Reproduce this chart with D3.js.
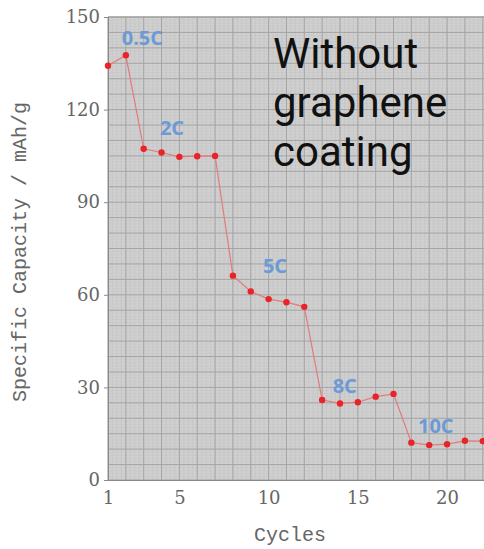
<!DOCTYPE html>
<html>
<head>
<meta charset="utf-8">
<script src="https://cdnjs.cloudflare.com/ajax/libs/d3/7.8.5/d3.min.js"></script>
<style>
  html, body { margin: 0; padding: 0; background: #fff; }
  svg { display: block; }
</style>
</head>
<body>
<svg id="chart" width="484" height="549"></svg>
<script>
// data
const cycles = d3.range(1, 23);
const capacity = [134.2, 137.6, 107.3, 106.1, 104.7, 104.9, 105.0, 66.2, 61.1, 58.6, 57.6,
  56.1, 25.9, 24.8, 25.2, 27.0, 27.9, 12.1, 11.3, 11.6, 12.7, 12.6];
const yTicks = [0, 30, 60, 90, 120, 150];
const xTicks = [1, 5, 10, 15, 20];
const rateLabels = ["0.5C", "2C", "5C", "8C", "10C"];
const rateCycle = [1.77, 3.91, 9.68, 13.59, 18.37];
const rateValue = [142.5, 113.4, 68.7, 29.8, 16.8];
const noteLines = ["Without", "graphene", "coating"];

var svg = d3.select("#chart");
const plotLeft = 108, plotRight = 484, plotTop = 17, plotBottom = 480;

var x = d3.scaleLinear().domain([1, 22.07]).range([plotLeft, plotRight]);
var y = d3.scaleLinear().domain([0, 150]).range([plotBottom, plotTop]);

// plot background
svg.append("rect")
  .attr("x", plotLeft).attr("y", plotTop)
  .attr("width", plotRight - plotLeft).attr("height", plotBottom - plotTop)
  .style("fill", "#d0d0d0");

const grid = svg.append("g");
// minor grid
grid.selectAll(".vminor")
  .data(d3.range(1, 22.1, 0.25))
  .enter().append("line")
  .attr("x1", (d) => x(d)).attr("x2", (d) => x(d))
  .attr("y1", plotTop).attr("y2", plotBottom)
  .style("stroke", "#c2c2c2").style("stroke-width", 0.6);
grid.selectAll(".hminor")
  .data(d3.range(0, 151, 1))
  .enter().append("line")
  .attr("x1", plotLeft).attr("x2", plotRight)
  .attr("y1", (d) => y(d)).attr("y2", (d) => y(d))
  .style("stroke", "#c4c4c4").style("stroke-width", 0.5);
// major grid
grid.selectAll(".vmajor")
  .data(cycles)
  .enter().append("line")
  .attr("x1", (d) => x(d)).attr("x2", (d) => x(d))
  .attr("y1", plotTop).attr("y2", plotBottom)
  .style("stroke", "#a5a5a5").style("stroke-width", 1);
grid.selectAll(".hmajor")
  .data(d3.range(0, 151, 5))
  .enter().append("line")
  .attr("x1", plotLeft).attr("x2", plotRight)
  .attr("y1", (d) => y(d)).attr("y2", (d) => y(d))
  .style("stroke", "#a5a5a5").style("stroke-width", 1);

// axes
const yAxis = svg.append("g")
  .attr("transform", `translate(${plotLeft},0)`)
  .call(d3.axisLeft(y).tickValues(yTicks).tickSize(4).tickPadding(4));
const xAxis = svg.append("g")
  .attr("transform", `translate(0,${plotBottom})`)
  .call(d3.axisBottom(x).tickValues(xTicks).tickSize(0).tickPadding(11));
[yAxis, xAxis].forEach((a) => {
  a.select(".domain").style("stroke", "#8a8a8a");
  a.selectAll(".tick line").style("stroke", "#8a8a8a");
  a.selectAll("text")
    .style("font-family", "'DejaVu Serif', serif")
    .style("font-size", "18px")
    .style("fill", "#666");
});
svg.append("line")
  .attr("x1", plotLeft).attr("x2", plotRight).attr("y1", plotTop).attr("y2", plotTop)
  .style("stroke", "#9a9a9a");

// axis titles
svg.append("text")
  .attr("x", 290).attr("y", 541)
  .attr("text-anchor", "middle")
  .style("font-family", "'Liberation Mono', monospace")
  .style("font-size", "20px")
  .style("fill", "#666")
  .text("Cycles");
svg.append("text")
  .attr("transform", "translate(26,252) rotate(-90)")
  .attr("text-anchor", "middle")
  .style("font-family", "'Liberation Mono', monospace")
  .style("font-size", "20px")
  .style("fill", "#666")
  .text("Specific Capacity / mAh/g");

// series
const points = cycles.map((c, i) => [c, capacity[i]]);
svg.append("path")
  .datum(points)
  .attr("d", d3.line().x((d) => x(d[0])).y((d) => y(d[1])))
  .style("fill", "none")
  .style("stroke", "#e47a7a")
  .style("stroke-width", 1.2);
svg.selectAll(".pt")
  .data(points)
  .enter().append("circle")
  .attr("cx", (d) => x(d[0]))
  .attr("cy", (d) => y(d[1]))
  .attr("r", 3.2)
  .style("fill", "#e8232a");

// rate labels
svg.selectAll(".rate")
  .data(rateLabels)
  .enter().append("text")
  .attr("x", (d, i) => x(rateCycle[i]))
  .attr("y", (d, i) => y(rateValue[i]))
  .attr("dominant-baseline", "middle")
  .style("font-family", "'Open Sans', sans-serif")
  .style("font-weight", "bold")
  .style("font-size", "20px")
  .style("fill", "#6b9bd6")
  .text((d) => d);

// note
svg.selectAll(".note")
  .data(noteLines)
  .enter().append("text")
  .attr("x", 273)
  .attr("y", (d, i) => 68 + i * 49)
  .style("font-family", "Roboto, sans-serif")
  .style("font-size", "42px")
  .style("fill", "#111")
  .text((d) => d);
</script>
</body>
</html>
